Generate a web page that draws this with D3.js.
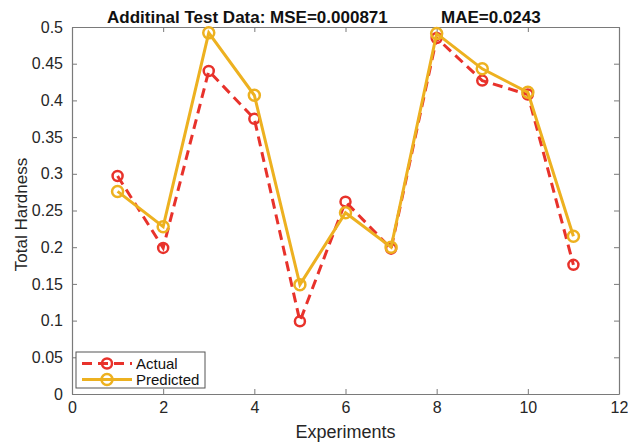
<!DOCTYPE html>
<html>
<head>
<meta charset="utf-8">
<script src="https://cdn.jsdelivr.net/npm/d3@7"></script>
<style>
  body { margin: 0; background: #fff; }
  text { font-family: "Liberation Sans", Arial, sans-serif; }
</style>
</head>
<body>
<div id="chart"></div>
<script>
const experiments = [1, 2, 3, 4, 5, 6, 7, 8, 9, 10, 11];
const actual = [0.297, 0.199, 0.440, 0.375, 0.099, 0.262, 0.198, 0.485, 0.427, 0.408, 0.176];
const predicted = [0.276, 0.228, 0.492, 0.407, 0.149, 0.247, 0.200, 0.491, 0.443, 0.411, 0.215];
const xTicks = [0, 2, 4, 6, 8, 10, 12];
const yTicks = [0, 0.05, 0.1, 0.15, 0.2, 0.25, 0.3, 0.35, 0.4, 0.45, 0.5];

const w = 628, h = 442;
const plotL = 72, plotR = 619, plotT = 27, plotB = 394;
const red = "#e8322b", orange = "#edb120";

const svg = d3.select("#chart").append("svg")
    .attr("width", w)
    .attr("height", h);

const xScale = d3.scaleLinear().domain([0, 12]).range([plotL, plotR]);
const yScale = d3.scaleLinear().domain([0, 0.5]).range([plotB, plotT]);

// axes with inward ticks, box on
const xAxis = d3.axisBottom(xScale).tickValues(xTicks).tickSizeInner(-5).tickSizeOuter(0).tickPadding(8);
const yAxis = d3.axisLeft(yScale).tickValues(yTicks).tickSizeInner(-5).tickSizeOuter(0).tickPadding(9)
    .tickFormat(d => String(+d.toFixed(2)));

const gx = svg.append("g").attr("transform", `translate(0,${plotB})`).call(xAxis);
const gy = svg.append("g").attr("transform", `translate(${plotL},0)`).call(yAxis);
const gxt = svg.append("g").attr("transform", `translate(0,${plotT})`)
    .call(d3.axisTop(xScale).tickValues(xTicks).tickSizeInner(-5).tickSizeOuter(0).tickFormat(""));
const gyr = svg.append("g").attr("transform", `translate(${plotR},0)`)
    .call(d3.axisRight(yScale).tickValues(yTicks).tickSizeInner(-5).tickSizeOuter(0).tickFormat(""));

[gx, gy, gxt, gyr].forEach(g => {
    g.select(".domain").attr("stroke", "#7a7a7a").attr("stroke-width", 1.2);
    g.selectAll(".tick line").attr("stroke", "#7a7a7a");
    g.selectAll(".tick text").attr("fill", "#262626").style("font-size", "16px");
});

const line = d3.line()
    .x((d, i) => xScale(experiments[i]))
    .y(d => yScale(d));

svg.append("path")
    .datum(actual)
    .attr("fill", "none")
    .attr("stroke", red)
    .attr("stroke-width", 3)
    .attr("stroke-dasharray", "10,6")
    .attr("d", line);

svg.selectAll(".actual-pt")
    .data(actual)
    .enter()
    .append("circle")
    .attr("class", "actual-pt")
    .attr("cx", (d, i) => xScale(experiments[i]))
    .attr("cy", d => yScale(d))
    .attr("r", 5)
    .attr("fill", "none")
    .attr("stroke", red)
    .attr("stroke-width", 2.5);

svg.append("path")
    .datum(predicted)
    .attr("fill", "none")
    .attr("stroke", orange)
    .attr("stroke-width", 3)
    .attr("d", line);

svg.selectAll(".pred-pt")
    .data(predicted)
    .enter()
    .append("circle")
    .attr("class", "pred-pt")
    .attr("cx", (d, i) => xScale(experiments[i]))
    .attr("cy", d => yScale(d))
    .attr("r", 5.5)
    .attr("fill", "none")
    .attr("stroke", orange)
    .attr("stroke-width", 2.5);

// title
const title = svg.append("text")
    .attr("y", 23)
    .style("font-size", "17px")
    .style("font-weight", "bold")
    .attr("fill", "#111");
title.append("tspan").attr("x", 107).text("Additinal Test Data: MSE=0.000871");
title.append("tspan").attr("x", 441).text("MAE=0.0243");

// axis labels
svg.append("text")
    .attr("x", (plotL + plotR) / 2)
    .attr("y", 438)
    .attr("text-anchor", "middle")
    .style("font-size", "18px")
    .attr("fill", "#262626")
    .text("Experiments");

svg.append("text")
    .attr("transform", `translate(27,${(plotT + plotB) / 2 + 4}) rotate(-90)`)
    .attr("text-anchor", "middle")
    .style("font-size", "17px")
    .attr("fill", "#262626")
    .text("Total Hardness");

// legend
const lg = svg.append("g");
lg.append("rect")
    .attr("x", 76).attr("y", 352)
    .attr("width", 129).attr("height", 36)
    .attr("fill", "#fff")
    .attr("stroke", "#555")
    .attr("stroke-width", 1);

const legendItems = [
    { name: "Actual", color: red, dash: "10,6", r: 5 },
    { name: "Predicted", color: orange, dash: null, r: 5.5 }
];
legendItems.forEach((it, i) => {
    const y = 363.5 + i * 16;
    lg.append("line")
        .attr("x1", 82).attr("x2", 132)
        .attr("y1", y).attr("y2", y)
        .attr("stroke", it.color)
        .attr("stroke-width", 3)
        .attr("stroke-dasharray", it.dash);
    lg.append("circle")
        .attr("cx", 107).attr("cy", y)
        .attr("r", it.r)
        .attr("fill", "none")
        .attr("stroke", it.color)
        .attr("stroke-width", 2.5);
    lg.append("text")
        .attr("x", 136).attr("y", y + 5)
        .style("font-size", "15px")
        .attr("fill", "#111")
        .text(it.name);
});
</script>
</body>
</html>
